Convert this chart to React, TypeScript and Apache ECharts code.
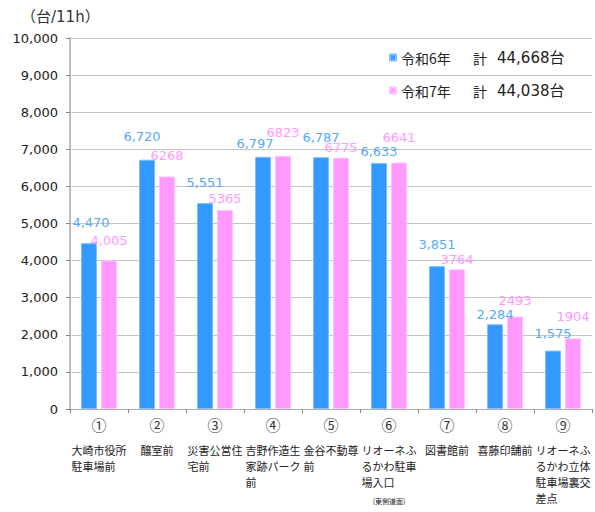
import React, { useEffect, useRef } from "react";
import * as echarts from "echarts";

const circled = ["①", "②", "③", "④", "⑤", "⑥", "⑦", "⑧", "⑨"];
const places = [
  "大崎市役所\n駐車場前",
  "醸室前",
  "災害公営住\n宅前",
  "吉野作造生\n家跡パーク\n前",
  "金谷不動尊\n前",
  "リオーネふ\nるかわ駐車\n場入口",
  "図書館前",
  "喜藤印舗前",
  "リオーネふ\nるかわ立体\n駐車場裏交\n差点",
];
const notes = ["", "", "", "", "", "(東側道面)", "", "", ""];
const seriesNames = ["令和6年", "令和7年"];
const r6 = [4470, 6720, 5551, 6797, 6787, 6633, 3851, 2284, 1575];
const r7 = [4005, 6268, 5365, 6823, 6775, 6641, 3764, 2493, 1904];
const yTicks = { min: 0, max: 10000, interval: 1000 };
const unitLabel = "（台/11h）";

// label placement styles (as in the reference, labels staggered to avoid overlap)
const r6LabelLift = [14, 17, 14, 7, 13, 5, 15, 3, 11];
const r6LabelShift = [2, -5, 0, -8, 0, 0, 0, 0, 0];
const r7LabelLift = [13, 14, 5, 17, 4, 19, 3, 10, 15];

const FONT = "'Noto Sans CJK JP', 'Noto Sans', sans-serif";
const NUMFONT = "'DejaVu Sans', 'Noto Sans CJK JP', sans-serif";
const fmt = (v: number) => v.toLocaleString("en-US");

export default function App() {
  const ref = useRef<HTMLDivElement>(null);
  useEffect(() => {
    if (!ref.current) return;
    const chart = echarts.init(ref.current, null, { renderer: "svg" });
    const totals = [r6, r7].map((a) => a.reduce((s, v) => s + v, 0));
    chart.setOption({
      animation: false,
      textStyle: { fontFamily: FONT },
      grid: { left: 70, right: 3, top: 38, bottom: 103, containLabel: false },
      graphic: [
        {
          type: "text",
          left: 21,
          top: 9,
          style: { text: unitLabel, fontSize: 15, fill: "#333", fontFamily: NUMFONT },
        },
      ],
      legend: {
        orient: "vertical",
        left: 384,
        top: 45,
        itemWidth: 6,
        itemHeight: 6,
        itemGap: 18,
        icon: "rect",
        data: seriesNames,
        formatter: (name: string) => {
          const i = seriesNames.indexOf(name);
          return `{n|${name}}{k|計}{v|${fmt(totals[i])}台}`;
        },
        textStyle: {
          fontFamily: FONT,
          color: "#222",
          fontSize: 14,
          rich: {
            n: { width: 72, fontSize: 14, color: "#222", fontFamily: FONT },
            k: { width: 24, fontSize: 14, color: "#222", fontFamily: FONT },
            v: { fontSize: 15, color: "#222", fontFamily: NUMFONT },
          },
        },
      },
      xAxis: {
        type: "category",
        data: places,
        axisLine: { lineStyle: { color: "#b0b0b0", width: 1 } },
        axisTick: { show: true, length: 4, lineStyle: { color: "#888" } },
        axisLabel: {
          interval: 0,
          margin: -3,
          color: "#222",
          fontFamily: FONT,
          formatter: (value: string, index: number) => {
            let s = `{c|${circled[index]}}\n` + value.split("\n").map((l) => `{a|${l}}`).join("\n");
            if (notes[index]) s += `\n{s|${notes[index]}}`;
            return s;
          },
          rich: {
            c: { fontSize: 15, lineHeight: 36, align: "center", color: "#333", fontFamily: FONT },
            a: { fontSize: 11, lineHeight: 16, align: "left", color: "#222", fontFamily: FONT },
            s: { fontSize: 7, lineHeight: 22, align: "center", color: "#222", fontFamily: FONT },
          },
        },
      },
      yAxis: {
        type: "value",
        min: yTicks.min,
        max: yTicks.max,
        interval: yTicks.interval,
        axisLine: { show: true, lineStyle: { color: "#bcbcbc", width: 2 } },
        axisTick: { show: true, length: 4, lineStyle: { color: "#888" } },
        splitLine: { lineStyle: { color: "#c4c4c4", width: 1 } },
        axisLabel: {
          margin: 12,
          fontSize: 13,
          color: "#222",
          fontFamily: NUMFONT,
          formatter: (v: number) => fmt(v),
        },
      },
      series: [
        {
          name: seriesNames[0],
          type: "bar",
          data: r6.map((v, i) => ({
            value: v,
            label: { distance: r6LabelLift[i], offset: [r6LabelShift[i], 0] },
          })),
          barWidth: 16,
          barGap: "25%",
          itemStyle: { color: "#3399ff", borderColor: "#7fbfff", borderWidth: 1 },
          label: {
            show: true,
            position: "top",
            fontSize: 13,
            color: "#5aa8f8",
            fontFamily: NUMFONT,
            formatter: (p: any) => fmt(p.value),
          },
        },
        {
          name: seriesNames[1],
          type: "bar",
          data: r7.map((v, i) => ({ value: v, label: { distance: r7LabelLift[i] } })),
          barWidth: 16,
          itemStyle: { color: "#ff99ff", borderColor: "#ffc4ff", borderWidth: 1 },
          label: {
            show: true,
            position: "top",
            fontSize: 13,
            color: "#ff99ff",
            fontFamily: NUMFONT,
            formatter: (p: any) => (p.dataIndex === 0 ? fmt(p.value) : String(p.value)),
          },
        },
      ],
    });
    return () => chart.dispose();
  }, []);
  return <div ref={ref} style={{ width: 595, height: 512, position: "absolute", left: 0, top: 0 }} />;
}
